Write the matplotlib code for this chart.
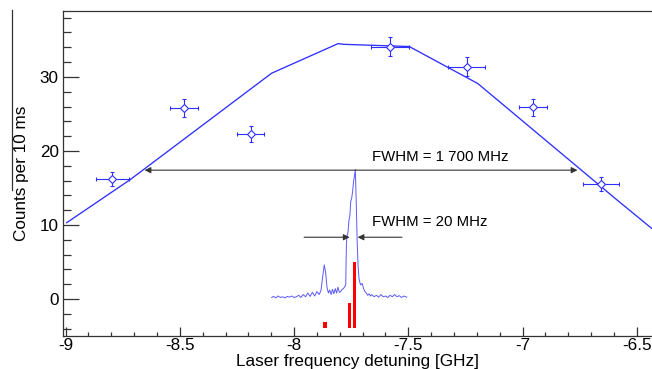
import numpy as np
import matplotlib
matplotlib.use("Agg")
import matplotlib.pyplot as plt
from matplotlib.lines import Line2D
from matplotlib.ticker import MultipleLocator, FormatStrFormatter

plt.rcParams['font.family'] = ['Liberation Sans', 'DejaVu Sans']
plt.rcParams['axes.unicode_minus'] = False

# measured points
pt_x = [-8.795, -8.482, -8.19, -7.58, -7.245, -6.956, -6.657]
pt_y = [16.2, 25.8, 22.3, 34.1, 31.4, 25.9, 15.5]
pt_xerr = [0.073, 0.06, 0.06, 0.085, 0.082, 0.062, 0.079]
pt_yerr = [0.95, 1.17, 1.1, 1.3, 1.3, 1.15, 0.95]

# fit curve (polyline vertices)
fit_x = [-8.995, -8.718, -8.098, -7.807, -7.785, -7.496, -7.196, -6.588, -6.434]
fit_y = [10.3, 16.1, 30.5, 34.5, 34.4, 34.1, 29.1, 13.4, 9.5]

# inset high-resolution spectrum
spec_x = [-8.098, -8.09, -8.08, -8.07, -8.06, -8.05, -8.04, -8.03, -8.02, -8.01,
          -8.00, -7.99, -7.98, -7.97, -7.96, -7.95, -7.94, -7.93, -7.92, -7.91,
          -7.90, -7.89, -7.882, -7.875, -7.868, -7.862, -7.856, -7.85, -7.844, -7.838,
          -7.832, -7.826, -7.82, -7.814, -7.808, -7.802, -7.796, -7.79, -7.784, -7.778,
          -7.774, -7.771, -7.768, -7.764, -7.760, -7.756, -7.752, -7.748, -7.744, -7.740,
          -7.736, -7.732, -7.728, -7.724, -7.720, -7.716, -7.712, -7.708, -7.702, -7.696,
          -7.69, -7.684, -7.678, -7.672, -7.666, -7.66, -7.65, -7.64, -7.63, -7.62,
          -7.61, -7.60, -7.59, -7.58, -7.57, -7.56, -7.55, -7.54, -7.53, -7.52, -7.507]
spec_y = [0.2, 0.35, 0.15, 0.4, 0.2, 0.3, 0.15, 0.35, 0.25, 0.4,
          0.2, 0.3, 0.5, 0.2, 0.6, 0.3, 0.8, 0.35, 0.9, 0.4,
          1.0, 0.6, 1.2, 3.0, 4.6, 3.6, 1.6, 0.8, 1.2, 0.6,
          1.3, 0.7, 1.4, 0.8, 1.6, 0.9, 1.0, 1.3, 1.4, 1.7,
          1.9, 7.5, 8.6, 9.0, 10.6, 11.2, 13.2, 13.6, 14.5, 15.8,
          16.6, 17.5, 13.0, 7.8, 4.5, 2.8, 2.2, 1.9, 2.1, 1.4,
          1.0, 0.8, 0.5, 0.7, 0.4, 0.6, 0.3, 0.5, 0.25, 0.6,
          0.3, 0.4, 0.2, 0.5, 0.3, 0.6, 0.3, 0.45, 0.2, 0.4, 0.25]

# hyperfine line strengths (red bars)
bar_x = [-7.865, -7.756, -7.734]
bar_top = [-3.07, -0.58, 4.96]
bar_base = -3.96

fig = plt.figure(figsize=(6.52, 3.69), dpi=100)
ax = fig.add_axes([63/652, 1 - 336/369, 589/652, 325/369])

blue = '#2f2fff'
ax.plot(fit_x, fit_y, color=blue, lw=0.95, zorder=2)
ax.plot(spec_x, spec_y, color='#5a5aff', lw=0.7, zorder=2)
ax.bar(bar_x, np.array(bar_top) - bar_base, bottom=bar_base, width=0.014,
       color='#ff0000', zorder=3)
ax.errorbar(pt_x, pt_y, xerr=pt_xerr, yerr=pt_yerr, fmt='D', ms=4, mfc='white',
            mec=blue, mew=0.8, ecolor=blue, elinewidth=0.8, capsize=1.6,
            capthick=0.8, zorder=4)

arrow_col = '#333333'
ax.annotate('', xy=(-8.654, 17.4), xytext=(-6.76, 17.4),
            arrowprops=dict(arrowstyle='<|-|>', color=arrow_col, lw=0.8,
                            mutation_scale=9, shrinkA=0, shrinkB=0))
ax.annotate('', xy=(-7.757, 8.34), xytext=(-7.956, 8.34),
            arrowprops=dict(arrowstyle='-|>', color=arrow_col, lw=0.8,
                            mutation_scale=9, shrinkA=0, shrinkB=0))
ax.annotate('', xy=(-7.722, 8.34), xytext=(-7.528, 8.34),
            arrowprops=dict(arrowstyle='-|>', color=arrow_col, lw=0.8,
                            mutation_scale=9, shrinkA=0, shrinkB=0))
ax.text(-7.66, 19.2, 'FWHM = 1 700 MHz', fontsize=10.8, va='center', ha='left')
ax.text(-7.66, 10.45, 'FWHM = 20 MHz', fontsize=10.8, va='center', ha='left')

ax.set_xlim(-9.011, -6.434)
ax.set_ylim(-5, 38.9)
ax.xaxis.set_major_locator(MultipleLocator(0.5))
ax.xaxis.set_minor_locator(MultipleLocator(0.1))
ax.yaxis.set_major_locator(MultipleLocator(10))
ax.yaxis.set_minor_locator(MultipleLocator(2))
ax.xaxis.set_major_formatter(FormatStrFormatter('%g'))
ax.tick_params(axis='both', which='both', direction='in', colors='#333333',
               labelcolor='black', labelsize=12.3, width=0.9)
ax.tick_params(axis='y', which='major', length=11.5, pad=3)
ax.tick_params(axis='y', which='minor', length=5.8)
ax.tick_params(axis='x', which='major', length=6.5, pad=1.5)
ax.tick_params(axis='x', which='minor', length=3.2)
ax.tick_params(top=False, right=False)
for s in ['left', 'bottom', 'top']:
    ax.spines[s].set_color('#333333')
    ax.spines[s].set_linewidth(0.9)
ax.spines['right'].set_visible(False)

ax.set_xlabel('Laser frequency detuning [GHz]', fontsize=12.3, labelpad=0.5)
ax.set_ylabel('Counts per 10 ms', fontsize=12.3, labelpad=8)

fig.add_artist(Line2D([12/652, 12/652], [1 - 10/369, 1 - 190/369],
                      transform=fig.transFigure, color='#333333', lw=0.9))

fig.savefig('out.png', dpi=100)
